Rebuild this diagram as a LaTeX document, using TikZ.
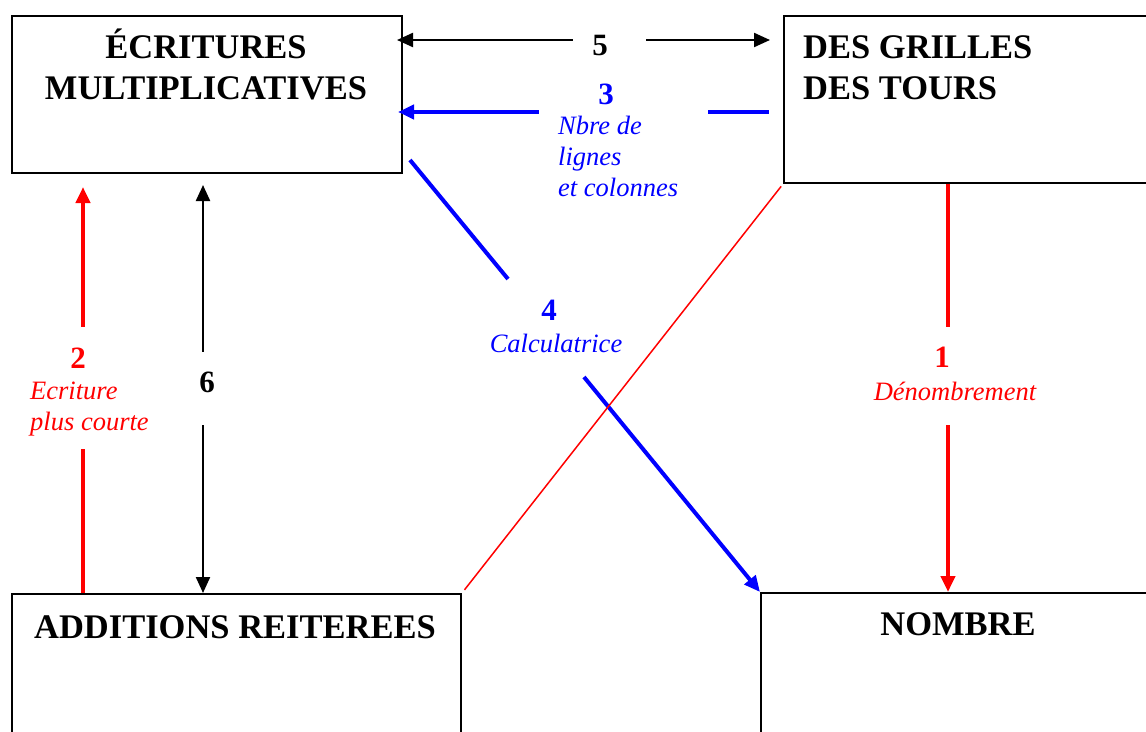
\documentclass[tikz,border=0pt]{standalone}
\usepackage{fontspec}
\setmainfont{Liberation Serif}
\usetikzlibrary{arrows.meta, positioning}

\definecolor{rouge}{RGB}{255,0,0}
\definecolor{bleu}{RGB}{0,0,255}

\begin{document}
\begin{tikzpicture}
[x=1pt, y=-1pt,
 >={Triangle[length=16pt,width=14pt]},
 boite/.style={draw, line width=2pt, inner sep=0pt, anchor=north west},
 titre/.style={font=\fontsize{34.5}{41}\selectfont\bfseries, inner sep=0pt, anchor=base},
 numero/.style={font=\fontsize{31}{36}\selectfont\bfseries, inner sep=0pt},
 legende/.style={font=\fontsize{26.5}{31}\selectfont\itshape, inner sep=0pt, anchor=base, align=left},
 noir/.style={line width=2.2pt},
 epais/.style={line width=4pt},
 fin/.style={line width=1.5pt, rouge},
]

\useasboundingbox (0,0) rectangle (1146,731);
\clip (0,0) rectangle (1146,731);

% les quatre cadres
\node[boite, minimum width=390pt, minimum height=157pt] (ecr) at (11,15) {};
\node[boite, minimum width=400pt, minimum height=167pt] (gri) at (783,15) {};
\node[boite, minimum width=449pt, minimum height=200pt] (add) at (11,593) {};
\node[boite, minimum width=400pt, minimum height=200pt] (nom) at (760,592) {};

% (base = derniere ligne)
\node[titre, align=center]             (tecr) at (206,99.5)  {ÉCRITURES\\MULTIPLICATIVES};
\node[titre, align=left, anchor=base west] (tgri) at (803,99) {DES GRILLES\\DES TOURS};
\node[titre]                           (tadd) at (235,638.5) {ADDITIONS REITEREES};
\node[titre]                           (tnom) at (958,635.5) {NOMBRE};

% etiquettes
\node[numero]        (n5) at (600,45.5)  {5};
\node[numero, bleu]  (n3) at (606,94)    {3};
\node[legende, bleu, anchor=base west] (t3) at (558,196) {Nbre de\\lignes\\et colonnes};
\node[numero, bleu]  (n4) at (549,310.5) {4};
\node[legende, bleu] (t4) at (556,352)   {Calculatrice};
\node[numero, rouge] (n1) at (942,357.5) {1};
\node[legende, rouge] (t1) at (955,400)  {Dénombrement};
\node[numero, rouge] (n2) at (78,358)    {2};
\node[legende, rouge, anchor=base west] (t2) at (30,430) {Ecriture\\plus courte};
\node[numero]        (n6) at (207,382)   {6};

% bords des trous
\coordinate (g5a) at (573,40);  \coordinate (g5b) at (646,40);
\coordinate (g3a) at (539,112); \coordinate (g3b) at (708,112);
\coordinate (d4)  at (410,160);
\coordinate (g4a) at (508,279); \coordinate (g4b) at (584,377);
\coordinate (g1a) at (948,327); \coordinate (g1b) at (948,425);
\coordinate (g2a) at (83,327);  \coordinate (g2b) at (83,449);
\coordinate (g6a) at (203,352); \coordinate (g6b) at (203,425);

% fleches
\draw[noir, <-, shorten <=-6pt] (ecr.east |- g5a) -- (g5a);
\draw[noir, ->, shorten >=13pt] (g5b) -- (gri.west |- g5b);

\draw[epais, bleu, <-, shorten <=-5pt] (ecr.east |- g3a) -- (g3a);
\draw[epais, bleu, shorten >=14pt] (g3b) -- (gri.west |- g3b);

\draw[epais, bleu] (d4) -- (g4a);
\draw[epais, bleu, ->] (g4b) -- (nom.north west);

\draw[fin, shorten <=3pt, shorten >=4pt] (gri.south west) -- (add.north east);

\draw[epais, rouge] (gri.south -| g1a) -- (g1a);
\draw[epais, rouge, ->] (g1b) -- (nom.north -| g1b);

\draw[epais, rouge, <-, shorten <=13pt] (ecr.south -| g2a) -- (g2a);
\draw[epais, rouge] (g2b) -- (add.north -| g2b);

\draw[noir, <-, shorten <=11pt] (ecr.south -| g6a) -- (g6a);
\draw[noir, ->] (g6b) -- (add.north -| g6b);
\end{tikzpicture}
\end{document}
